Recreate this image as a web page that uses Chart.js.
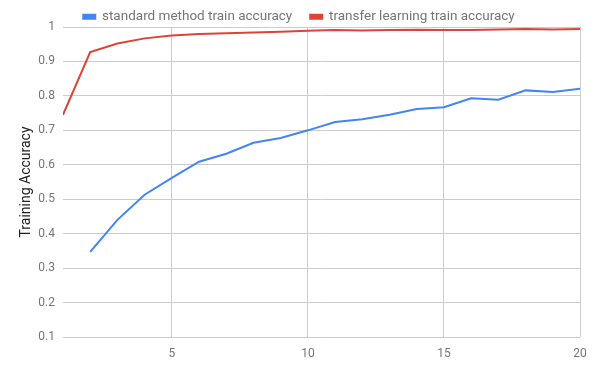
<!DOCTYPE html>
<html><head><meta charset="utf-8">
<script src="https://cdn.jsdelivr.net/npm/chart.js@4/dist/chart.umd.min.js"></script>
<style>html,body{margin:0;padding:0;background:#fff}#wrap{width:600px;height:371px}</style>
</head><body><div id="wrap"><canvas id="c" width="600" height="371"></canvas></div>
<script>
const epochs = [1,2,3,4,5,6,7,8,9,10,11,12,13,14,15,16,17,18,19,20];
const standardAcc = [null,0.347,0.44,0.513,0.562,0.609,0.632,0.664,0.678,0.70,0.724,0.732,0.745,0.762,0.767,0.793,0.789,0.816,0.811,0.821];
const transferAcc = [0.745,0.927,0.952,0.967,0.975,0.980,0.982,0.984,0.986,0.989,0.991,0.990,0.991,0.992,0.991,0.991,0.993,0.994,0.993,0.994];
const xTicks = [5,10,15,20];
const yTicks = [0.1,0.2,0.3,0.4,0.5,0.6,0.7,0.8,0.9,1];
const seriesNames = ['standard method train accuracy','transfer learning train accuracy'];

const FONT = 'Roboto';
const legendHeightFix = {
  id:'legendHeightFix',
  beforeLayout(chart){
    const lg = chart.legend;
    if (lg && !lg._wrapped){
      const orig = lg.fit;
      lg.fit = function(){ orig.call(this); this.height = 35; };
      lg._wrapped = true;
    }
  }
};
new Chart(document.getElementById('c'), {
  type: 'line',
  data: {
    datasets: [
      {label: seriesNames[0], data: epochs.map((e,i)=>({x:e,y:standardAcc[i]})), borderColor:'#4285F4', backgroundColor:'#4285F4', borderWidth:2, pointRadius:0, tension:0, spanGaps:false},
      {label: seriesNames[1], data: epochs.map((e,i)=>({x:e,y:transferAcc[i]})), borderColor:'#DB4437', backgroundColor:'#DB4437', borderWidth:2, pointRadius:0, tension:0}
    ]
  },
  plugins:[legendHeightFix],
  options: {
    responsive:false, animation:false, devicePixelRatio:1,
    layout:{padding:{left:18,right:20,top:-8,bottom:0}},
    plugins:{
      legend:{position:'top', align:'center',
        labels:{boxWidth:12, boxHeight:4, color:'#757575', font:{family:FONT,size:13.5}, padding:18}},
      tooltip:{enabled:false}
    },
    scales:{
      x:{type:'linear', min:1, max:20,
        afterBuildTicks:(s)=>{s.ticks = xTicks.map(v=>({value:v}));},
        afterFit:(s)=>{s.height = 34;},
        grid:{color:'#cccccc', drawTicks:false},
        border:{display:false},
        ticks:{color:'#757575', font:{family:FONT,size:12}, padding:10, maxRotation:0}
      },
      y:{type:'linear', min:0.1, max:1,
        afterBuildTicks:(s)=>{s.ticks = yTicks.map(v=>({value:v}));},
        afterFit:(s)=>{s.width = 45;},
        grid:{color:'#cccccc', drawTicks:false},
        border:{display:false},
        title:{display:true, text:'Training Accuracy', color:'#222222', font:{family:FONT,size:14}, padding:{top:0,bottom:0}},
        ticks:{color:'#757575', font:{family:FONT,size:12}, padding:8, callback:(v)=>String(Math.round(v*10)/10)}
      }
    }
  }
});
</script></body></html>
